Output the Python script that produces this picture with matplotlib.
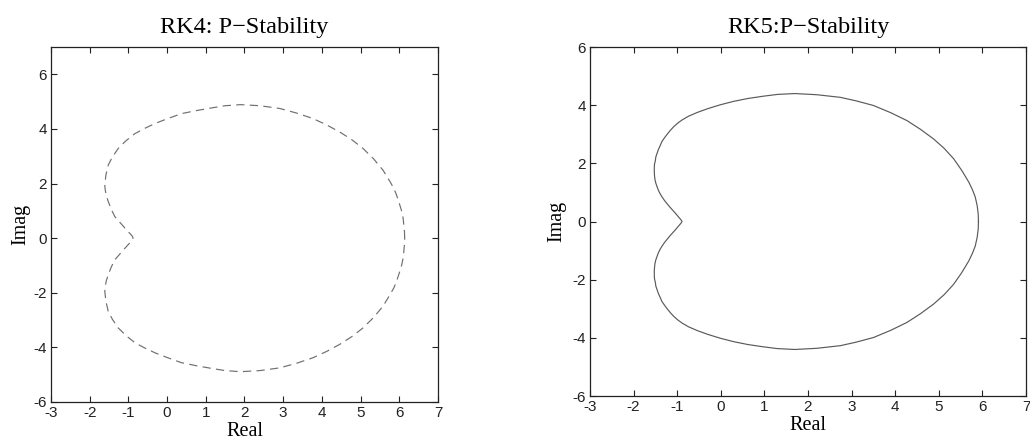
import numpy as np
import matplotlib
matplotlib.use("Agg")
import matplotlib.pyplot as plt

# upper half of each stability boundary (curve is symmetric about Imag = 0)
rk4_real = [6.14, 6.135, 6.12, 6.10, 6.06, 6.00, 5.93, 5.86, 5.77, 5.58, 5.34, 5.06, 4.77,
            4.46, 4.12, 3.77, 3.35, 2.91, 2.40, 1.90, 1.50, 1.15, 0.75, 0.37, 0.02,
            -0.31, -0.58, -0.83, -1.06, -1.26, -1.41, -1.52, -1.58, -1.61, -1.60, -1.57,
            -1.52, -1.44, -1.35, -1.22, -1.09, -0.98, -0.92, -0.89, -0.88]
rk4_imag = [0.00, 0.22, 0.45, 0.73, 1.00, 1.28, 1.58, 1.82, 2.05, 2.49, 2.90, 3.29, 3.61,
            3.89, 4.15, 4.38, 4.58, 4.75, 4.85, 4.89, 4.85, 4.77, 4.67, 4.56, 4.38,
            4.20, 4.02, 3.83, 3.57, 3.29, 2.98, 2.68, 2.32, 1.95, 1.78, 1.56,
            1.34, 1.05, 0.79, 0.58, 0.37, 0.20, 0.11, 0.05, 0.00]

rk5_real = [5.91, 5.905, 5.88, 5.835, 5.77, 5.69, 5.53, 5.34, 5.12, 4.88, 4.58, 4.27, 3.90,
            3.50, 3.10, 2.74, 2.20, 1.70, 1.30, 0.98, 0.62, 0.29, -0.02, -0.30, -0.54,
            -0.74, -0.88, -0.99, -1.08, -1.16, -1.23, -1.29, -1.35, -1.39, -1.43, -1.46,
            -1.49, -1.50, -1.52, -1.525, -1.525, -1.52, -1.51, -1.49, -1.46, -1.43, -1.39,
            -1.34, -1.29, -1.23, -1.17, -1.11, -1.05, -1.00, -0.96, -0.925, -0.905, -0.893,
            -0.89]
rk5_imag = [0.00, 0.25, 0.55, 0.85, 1.10, 1.35, 1.75, 2.16, 2.52, 2.84, 3.17, 3.47, 3.74,
            3.99, 4.15, 4.27, 4.36, 4.40, 4.37, 4.31, 4.23, 4.13, 4.01, 3.88, 3.75,
            3.62, 3.50, 3.38, 3.26, 3.13, 3.00, 2.88, 2.75, 2.61, 2.48, 2.35,
            2.22, 2.10, 1.97, 1.84, 1.71, 1.58, 1.45, 1.32, 1.19, 1.07, 0.95,
            0.83, 0.72, 0.61, 0.50, 0.40, 0.30, 0.21, 0.14, 0.08, 0.04, 0.015,
            0.00]

x_ticks = [-3, -2, -1, 0, 1, 2, 3, 4, 5, 6, 7]
rk4_yticks = [-6, -4, -2, 0, 2, 4, 6]
rk5_yticks = [-6, -4, -2, 0, 2, 4, 6]


def full_curve(re, im):
    re = np.array(re)
    im = np.array(im)
    # mirror the upper half onto the lower half
    return np.concatenate([re, re[::-1]]), np.concatenate([im, -im[::-1]])


def style_axes(ax, yticks, ylim, title, title_pad, ylabel_pad):
    ax.set_xlim(-3, 7)
    ax.set_ylim(*ylim)
    ax.set_xticks(x_ticks)
    ax.set_yticks(yticks)
    ax.tick_params(direction="in", length=4, width=0.8, top=True, right=True,
                   labelsize=11, pad=3, colors="#222222")
    for lab in ax.get_xticklabels() + ax.get_yticklabels():
        lab.set_fontfamily("Liberation Sans")
    for s in ax.spines.values():
        s.set_linewidth(0.9)
        s.set_color("#222222")
    ax.set_title(title, fontsize=17.5, family="Liberation Serif", pad=title_pad)
    ax.set_xlabel("Real", fontsize=14.5, family="Liberation Serif", labelpad=1)
    ax.set_ylabel("Imag", fontsize=14.5, family="Liberation Serif", labelpad=ylabel_pad)


plt.rcParams["axes.unicode_minus"] = False

fig = plt.figure(figsize=(10.3, 4.44), dpi=100)

ax1 = fig.add_axes([0.0495, 0.0946, 0.3757, 0.7995])
x, y = full_curve(rk4_real, rk4_imag)
ax1.plot(x, y, color="#6f6f6f", lw=0.85, dashes=(7, 4.5))
style_axes(ax1, rk4_yticks, (-6, 7), "RK4: P\u2212Stability", 10, 2)

ax2 = fig.add_axes([0.5728, 0.1081, 0.4233, 0.786])
x, y = full_curve(rk5_real, rk5_imag)
ax2.plot(x, y, color="#5a5a5a", lw=0.85)
style_axes(ax2, rk5_yticks, (-6, 6), "RK5:P\u2212Stability", 10, 4)

fig.savefig("out.png", dpi=100)
